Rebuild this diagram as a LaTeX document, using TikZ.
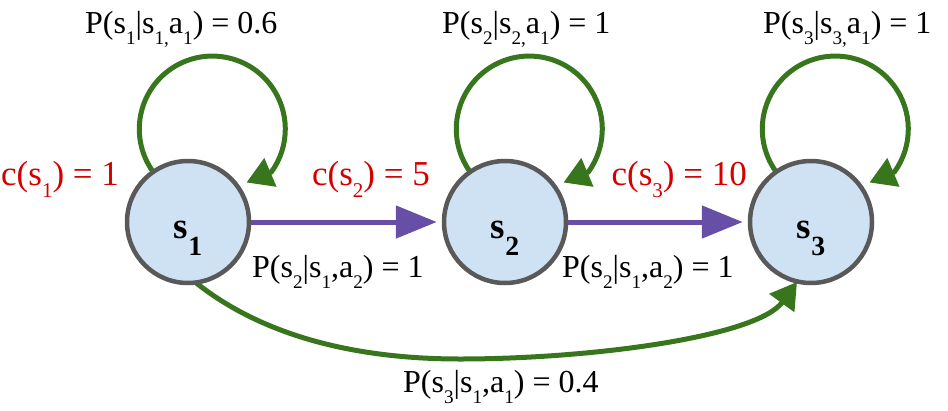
\documentclass[tikz,border=0pt]{standalone}
\usepackage{fontspec}
\setmainfont{Liberation Serif}
\newfontfamily\mdpserif{Liberation Serif}
\usetikzlibrary{arrows.meta,backgrounds}
\definecolor{mdpgreen}{HTML}{38761D}
\definecolor{mdppurple}{HTML}{674EA7}
\definecolor{mdpred}{HTML}{D40000}
\definecolor{mdpgray}{HTML}{595959}
\definecolor{mdpfill}{HTML}{CFE2F3}
\newcommand\lo[1]{\raisebox{-0.36em}{\scalebox{0.6}{#1}}}
\newcommand\blo[1]{\raisebox{-0.45em}{\scalebox{0.75}{#1}}}
\tikzset{
  state/.style={circle, draw=mdpgray, line width=4.5pt, fill=mdpfill,
    minimum size=122pt, inner sep=0pt, text height=33pt, text depth=0pt,
    font=\mdpserif\fontsize{37}{40}\selectfont\bfseries},
  plabel/.style={font=\mdpserif\fontsize{32}{36}\selectfont, inner sep=0pt, text=black},
  clabel/.style={font=\mdpserif\fontsize{35}{40}\selectfont, inner sep=0pt, text=mdpred},
  parrow/.style={draw=mdppurple, line width=5pt, -{Triangle[length=41pt,width=32pt]}, shorten >=5pt},
  garrow/.style={draw=mdpgreen, line width=5pt, -{Triangle[length=26pt,width=30pt]}},
}
\begin{document}
\begin{tikzpicture}[x=1pt,y=1pt]
\useasboundingbox (0,-410) rectangle (948,0);

\node[state] (s1) at (188,-222) {s\blo{1}};
\node[state] (s2) at (505,-222) {s\blo{2}};
\node[state] (s3) at (811,-222) {s\blo{3}};

\begin{scope}[on background layer]
  \draw[parrow] (s1) -- (s2);
  \draw[parrow] (s2) -- (s3);
  \draw[garrow] ([shift={(-34,49)}]s1.center) arc[start angle=217, end angle=-36, radius=73] -- ([shift={(58.5,39.5)}]s1.center);
  \draw[garrow] ([shift={(-34,49)}]s2.center) arc[start angle=217, end angle=-36, radius=73] -- ([shift={(58.5,39.5)}]s2.center);
  \draw[garrow] ([shift={(-34,49)}]s3.center) arc[start angle=217, end angle=-36, radius=73] -- ([shift={(58.5,39.5)}]s3.center);
  \coordinate (low) at (460,-359);
  \draw[garrow] ([shift={(7,-60)}]s1.center) .. controls (265,-338) and (360,-359) .. (low)
     .. controls (590,-359) and (757,-337) .. ([shift={(-14,-60)}]s3.center);
\end{scope}

\node[plabel, anchor=base west] (l11) at (85,-33) {P(s\lo{1}|s\lo{1,}a\lo{1}) = 0.6};
\node[plabel, anchor=base west] (l22) at (442,-33) {P(s\lo{2}|s\lo{2,}a\lo{1}) = 1};
\node[plabel, anchor=base west] (l33) at (763,-33) {P(s\lo{3}|s\lo{3,}a\lo{1}) = 1};
\node[plabel, anchor=base west] (l12) at (252,-277) {P(s\lo{2}|s\lo{1},a\lo{2}) = 1};
\node[plabel, anchor=base west] (l23) at (562,-277) {P(s\lo{2}|s\lo{1},a\lo{2}) = 1};
\node[plabel, anchor=base west] (l13) at (403,-392) {P(s\lo{3}|s\lo{1},a\lo{1}) = 0.4};

\node[clabel, anchor=base west] (c1) at (1,-185) {c(s\lo{1}) = 1};
\node[clabel, anchor=base east] (c2) at (430,-185) {c(s\lo{2}) = 5};
\node[clabel, anchor=base east] (c3) at (747,-185) {c(s\lo{3}) = 10};
\end{tikzpicture}
\end{document}
